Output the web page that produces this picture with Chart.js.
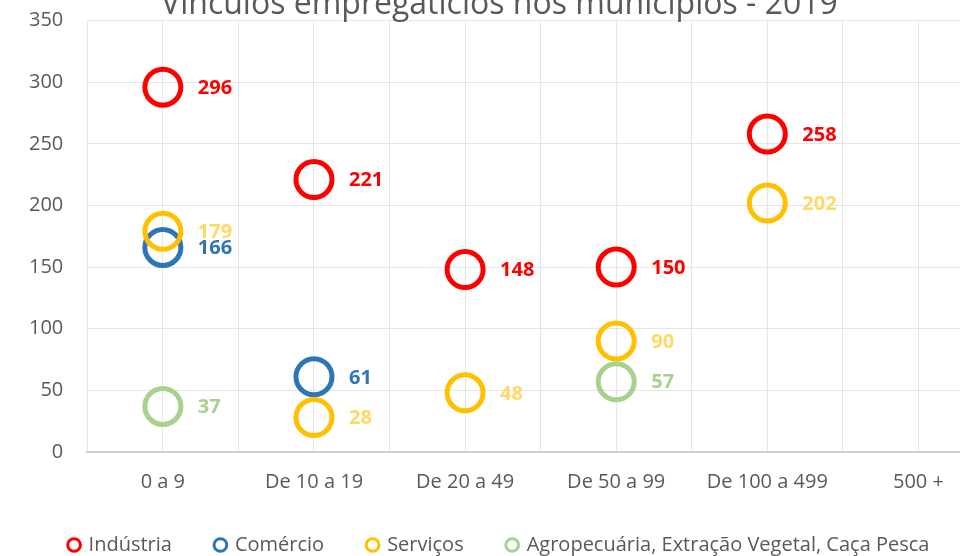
<!DOCTYPE html>
<html>
<head>
<meta charset="utf-8">
<script src="https://cdn.jsdelivr.net/npm/chart.js@4.4.0/dist/chart.umd.min.js"></script>
<style>
  html, body { margin: 0; padding: 0; background: #fff; }
  body { width: 960px; height: 556px; overflow: hidden; position: relative; }
  #wrap { position: absolute; left: 0; top: -22px; width: 1000px; height: 587px; }
</style>
</head>
<body>
<div id="wrap"><canvas id="scatterChart"></canvas></div>
<script>
// Vínculos empregatícios por faixa de tamanho do estabelecimento
const categories = ['0 a 9', 'De 10 a 19', 'De 20 a 49', 'De 50 a 99', 'De 100 a 499', '500 +'];
const yTicks = [0, 50, 100, 150, 200, 250, 300, 350];

const industria = [296, 221, 148, 150, 258, null];
const comercio = [166, 61, null, null, null, null];
const servicos = [179, 28, 48, 90, 202, null];
const agro = [37, null, null, 57, null, null];

const seriesNames = ['Indústria', 'Comércio', 'Serviços', 'Agropecuária, Extração Vegetal, Caça Pesca'];
const pointColors = ['#ff0000', '#2e75b6', '#ffc000', '#a9d18e'];
const labelColors = ['#ff0000', '#2e75b6', '#ffd966', '#a9d18e'];

const toPoints = (arr) => arr.map((v, i) => ({ x: i, y: v })).filter(p => p.y !== null);

const font = "'Open Sans', 'DejaVu Sans', sans-serif";

// rótulos de valor à direita de cada ponto
const valueLabels = {
    id: 'valueLabels',
    afterDatasetsDraw(chart) {
        const ctx = chart.ctx;
        ctx.save();
        ctx.font = 'bold 20px ' + font;
        ctx.textAlign = 'left';
        ctx.textBaseline = 'middle';
        chart.data.datasets.forEach((ds, i) => {
            const meta = chart.getDatasetMeta(i);
            ctx.fillStyle = labelColors[i];
            meta.data.forEach((pt, j) => {
                ctx.fillText(String(ds.data[j].y), pt.x + 35, pt.y + 1);
            });
        });
        ctx.restore();
    }
};

const ctx = document.getElementById('scatterChart');
new Chart(ctx, {
    type: 'scatter',
    data: {
        datasets: [industria, comercio, servicos, agro].map((arr, i) => ({
            label: seriesNames[i],
            data: toPoints(arr),
            borderColor: pointColors[i],
            backgroundColor: 'rgba(0,0,0,0)',
            borderWidth: 5,
            pointRadius: 18,
            pointHoverRadius: 18,
            pointStyle: 'circle',
            order: 4 - i
        }))
    },
    options: {
        responsive: true,
        maintainAspectRatio: false,
        animation: false,
        layout: {
            autoPadding: false,
            padding: { left: 5, right: 6, top: 0, bottom: 0 }
        },
        plugins: {
            title: {
                display: true,
                text: 'Vínculos empregatícios nos municípios - 2019',
                color: '#595959',
                font: { family: font, size: 32, weight: 'normal', lineHeight: 0.8 },
                padding: { top: 14, bottom: 3 }
            },
            legend: {
                position: 'bottom',
                labels: {
                    usePointStyle: true,
                    boxHeight: 9,
                    boxWidth: 9,
                    padding: 44,
                    color: '#595959',
                    font: { family: font, size: 20 },
                    sort: (a, b) => a.datasetIndex - b.datasetIndex,
                    generateLabels(chart) {
                        const items = Chart.defaults.plugins.legend.labels.generateLabels(chart);
                        items.forEach(it => { it.lineWidth = 3; it.fillStyle = '#ffffff'; });
                        return items;
                    }
                }
            },
            tooltip: { enabled: false }
        },
        scales: {
            x: {
                type: 'linear',
                min: -0.5,
                max: 5.5,
                afterBuildTicks(axis) {
                    const t = [];
                    for (let v = -0.5; v <= 5.5 + 1e-9; v += 0.5) t.push({ value: v });
                    axis.ticks = t;
                },
                afterFit(axis) {
                    axis.height = 39;
                    axis.paddingLeft = 0;
                    axis.paddingRight = 0;
                },
                ticks: {
                    autoSkip: false,
                    maxRotation: 0,
                    padding: 18,
                    color: '#595959',
                    font: { family: font, size: 20 },
                    callback: (v) => Number.isInteger(v) ? categories[v] : ''
                },
                grid: { color: '#e6e6e6', lineWidth: 1, drawTicks: false },
                border: { color: '#d0d0d0', width: 2 }
            },
            y: {
                min: 0,
                max: 350,
                afterBuildTicks(axis) {
                    axis.ticks = yTicks.map(v => ({ value: v }));
                },
                ticks: {
                    padding: 24,
                    color: '#595959',
                    font: { family: font, size: 20 }
                },
                grid: { color: '#e6e6e6', lineWidth: 1, drawTicks: false },
                border: { display: false }
            }
        }
    },
    plugins: [valueLabels]
});
</script>
</body>
</html>
